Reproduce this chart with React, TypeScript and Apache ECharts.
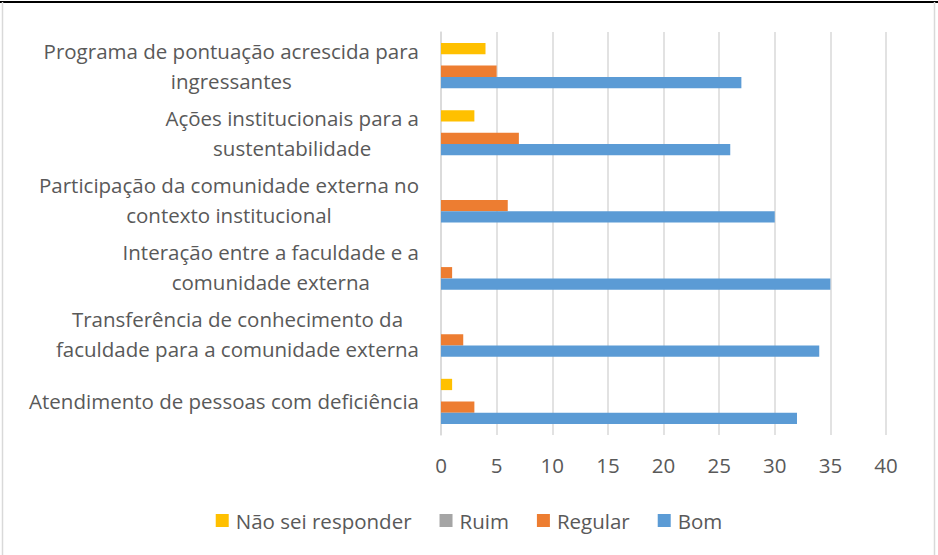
import React, { useEffect, useRef } from "react";
import * as echarts from "echarts";

const categories = [
  "Atendimento de pessoas com deficiência",
  "Transferência de conhecimento da\nfaculdade para a comunidade externa",
  "Interação entre a faculdade e a\ncomunidade externa",
  "Participação da comunidade externa no\ncontexto institucional",
  "Ações institucionais para a\nsustentabilidade",
  "Programa de pontuação acrescida para\ningressantes",
];
const bom = [32, 34, 35, 30, 26, 27];
const regular = [3, 2, 1, 6, 7, 5];
const ruim = [0, 0, 0, 0, 0, 0];
const naoSei = [1, 0, 0, 0, 3, 4];
const xTicks = [0, 40, 5];

const FONT = "Open Sans";
const TXT = "#595959";
const FS = 20.5;

export default function App() {
  const ref = useRef<HTMLDivElement>(null);
  useEffect(() => {
    document.body.style.margin = "0";
    const chart = echarts.init(ref.current!, undefined, { renderer: "svg" });
    const barW = 11.3;
    chart.setOption({
      animation: false,
      backgroundColor: "#ffffff",
      textStyle: { fontFamily: FONT },
      grid: { left: 441, right: 52, top: 32, bottom: 120, containLabel: false },
      legend: {
        data: ["Não sei responder", "Ruim", "Regular", "Bom"],
        left: "center",
        top: 505,
        icon: "rect",
        itemWidth: 13,
        itemHeight: 13,
        itemGap: 28,
        textStyle: { fontSize: FS, color: TXT, fontFamily: FONT, padding: [0, 0, 0, 2] },
      },
      xAxis: {
        type: "value",
        min: xTicks[0],
        max: xTicks[1],
        interval: xTicks[2],
        axisLine: { show: false },
        axisTick: { show: false },
        splitLine: { lineStyle: { color: "#d9d9d9", width: 1.5 } },
        axisLabel: { fontSize: FS, color: TXT, margin: 19, fontFamily: FONT },
      },
      yAxis: {
        type: "category",
        data: categories,
        axisLine: { show: true, lineStyle: { color: "#d9d9d9", width: 1.5 } },
        axisTick: { show: false },
        axisLabel: {
          margin: 22,
          formatter: (v: string) => v.split("\n").map((l) => `{c|${l}}`).join("\n"),
          rich: { c: { align: "center", fontSize: FS, color: TXT, lineHeight: 30, fontFamily: FONT } },
        },
      },
      series: [
        { name: "Não sei responder", type: "bar", data: naoSei, barWidth: barW, barGap: "0%", itemStyle: { color: "#FFC000" } },
        { name: "Ruim", type: "bar", data: ruim, barWidth: barW, barGap: "0%", itemStyle: { color: "#A5A5A5" } },
        { name: "Regular", type: "bar", data: regular, barWidth: barW, barGap: "0%", itemStyle: { color: "#ED7D31" } },
        { name: "Bom", type: "bar", data: bom, barWidth: barW, barGap: "0%", itemStyle: { color: "#5B9BD5" } },
      ],
      graphic: [
        { type: "line", shape: { x1: 0, y1: 2, x2: 938, y2: 2 }, style: { stroke: "#000", lineWidth: 2 } },
        { type: "line", shape: { x1: 2.5, y1: 2, x2: 2.5, y2: 555 }, style: { stroke: "#d9d9d9", lineWidth: 1.5 } },
        { type: "line", shape: { x1: 934.5, y1: 2, x2: 934.5, y2: 555 }, style: { stroke: "#d9d9d9", lineWidth: 1.5 } },
      ],
    });
    return () => chart.dispose();
  }, []);
  return <div ref={ref} style={{ position: "absolute", left: 0, top: 0, width: 938, height: 555 }} />;
}
